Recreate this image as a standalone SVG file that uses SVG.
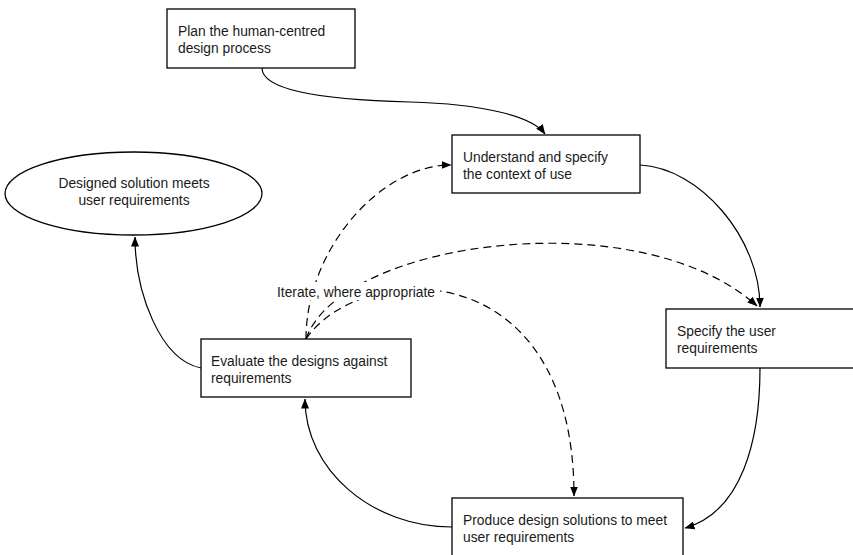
<svg xmlns="http://www.w3.org/2000/svg" width="853" height="555" viewBox="0 0 853 555">
  <style>
    .box { fill: #ffffff; stroke: #000000; stroke-width: 1.3; }
    .lbl { font-family: "Liberation Sans", Arial, sans-serif; font-size: 13.8px; fill: #1a1a1a; }
    .flow { fill: none; stroke: #000000; stroke-width: 1.2; marker-end: url(#arrow); }
    .iter { fill: none; stroke: #000000; stroke-width: 1.2; stroke-dasharray: 8 5; marker-end: url(#arrow); }
  </style>
  <defs>
    <marker id="arrow" markerUnits="userSpaceOnUse" markerWidth="10" markerHeight="10" viewBox="0 0 10 10" refX="9.5" refY="5" orient="auto">
      <path d="M0,1 L10,5 L0,9 Z" fill="#000000"/>
    </marker>
  </defs>

  <rect width="853" height="555" fill="#ffffff"/>

  <!-- connectors -->
  <g id="connectors">
    <path class="flow" d="M262,68 C262,92 330,100 410,102 C482,104 532,116 545,134"/>
    <path class="flow" d="M640,165 C700,168 760,238 760,307"/>
    <path class="flow" d="M760,368 C760,440 742,512 685,528"/>
    <path class="flow" d="M452,527 C372,527 305,470 305,399"/>
    <path class="flow" d="M201,368 C160,360 135,292 135,237"/>
    <path class="iter" d="M306,339 C306,250 380,165 451,165"/>
    <path class="iter" d="M306,339 C340,240 640,200 757,306"/>
    <path class="iter" d="M306,339 C360,260 574,250 574,496"/>
    <!-- label sits over the dashed iteration paths -->
    <rect x="274" y="282" width="166" height="18" fill="#ffffff"/>
    <text class="lbl" x="277" y="297">Iterate, where appropriate</text>
  </g>

  <g id="plan">
    <rect class="box" x="167" y="9" width="188" height="59"/>
    <text class="lbl" x="178" y="36">Plan the human-centred</text>
    <text class="lbl" x="178" y="53">design process</text>
  </g>

  <g id="understand">
    <rect class="box" x="452" y="135" width="188" height="58"/>
    <text class="lbl" x="463" y="162">Understand and specify</text>
    <text class="lbl" x="463" y="179">the context of use</text>
  </g>

  <g id="solution">
    <ellipse class="box" cx="133.5" cy="193.5" rx="128.5" ry="41.5"/>
    <text class="lbl" x="134" y="188" text-anchor="middle">Designed solution meets</text>
    <text class="lbl" x="134" y="205" text-anchor="middle">user requirements</text>
  </g>

  <g id="evaluate">
    <rect class="box" x="201" y="339" width="210" height="58"/>
    <text class="lbl" x="211" y="366">Evaluate the designs against</text>
    <text class="lbl" x="211" y="383">requirements</text>
  </g>

  <g id="specify">
    <rect class="box" x="666" y="309" width="200" height="59"/>
    <text class="lbl" x="677" y="336">Specify the user</text>
    <text class="lbl" x="677" y="353">requirements</text>
  </g>

  <g id="produce">
    <rect class="box" x="452" y="498" width="231" height="70"/>
    <text class="lbl" x="463" y="525">Produce design solutions to meet</text>
    <text class="lbl" x="463" y="542">user requirements</text>
  </g>
</svg>
